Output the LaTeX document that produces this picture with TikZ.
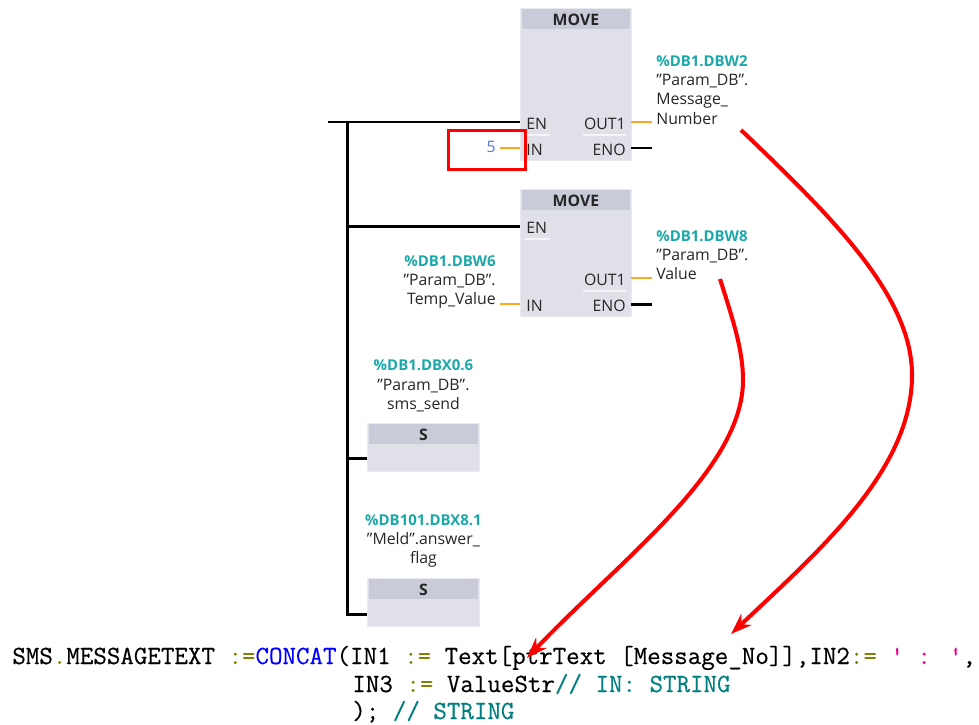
\documentclass[tikz,border=0pt]{standalone}
\usepackage{fontspec}
\setmainfont{Open Sans}
\newfontfamily\codefont[FakeBold=0.35]{Latin Modern Mono}
\usepackage{xcolor}
\usetikzlibrary{arrows.meta,positioning,calc}
\definecolor{blockgray}{HTML}{DFE0E8}
\definecolor{headgray}{HTML}{C9CBD9}
\definecolor{addrteal}{HTML}{1BA8A8}
\definecolor{wireorange}{HTML}{FFA81E}
\definecolor{valblue}{HTML}{5577DD}
\definecolor{codeolive}{HTML}{808000}
\definecolor{codeteal}{HTML}{008080}
\newcommand{\addr}[1]{\textcolor{addrteal}{\fontsize{8.5}{10.9}\selectfont\bfseries #1}}
\newcommand{\kw}[1]{\textcolor{codeolive}{#1}}
\newcommand{\qt}{\symbol{34}}
\begin{document}
\begin{tikzpicture}[x=0.02cm,y=-0.02cm,>=Stealth,
  blockbody/.style={draw=blockgray!70!white,fill=blockgray,anchor=north west,inner sep=0pt,minimum width=2.22cm,line width=0.5pt},
  blockhead/.style={fill=headgray,anchor=north,inner sep=0pt,minimum width=2.16cm,minimum height=0.40cm,font=\fontsize{9}{10}\selectfont\bfseries,text=black!85},
  pin/.style={anchor=west,inner xsep=0.12cm,inner ysep=0pt,text height=8.8pt,text depth=0pt,font=\fontsize{9}{10}\selectfont,text=black!85},
  pinr/.style={anchor=east,inner xsep=0.10cm,inner ysep=0pt,text height=8.8pt,text depth=0pt,font=\fontsize{9}{10}\selectfont,text=black!85},
  operand/.style={inner sep=0.08cm,font=\fontsize{9}{10.9}\selectfont,text=black!85},
  blackwire/.style={draw=black,line width=1.7pt},
  datawire/.style={draw=wireorange,line width=1.4pt},
  sepline/.style={draw=white,draw opacity=0.7,line width=0.6pt},
  redarrow/.style={draw=red,line width=2.3pt,-{Stealth[length=0.42cm,width=0.30cm]}},
  codeline/.style={anchor=base west,inner sep=0pt,font=\fontsize{14.93}{16}\selectfont\codefont}]
  \useasboundingbox (0,0) rectangle (979,724);
  % first move box
  \node[blockbody,minimum height=3.04cm] (move1) at (520,8) {};
  \node[blockhead] (head1) at ([yshift=-0.02cm]move1.north) {MOVE};
  \node[pin] (en1) at (520,122) {EN};
  \node[pin] (in1) at (520,148) {IN};
  \node[pinr] (out1) at (631,122) {OUT1};
  \node[pinr] (eno1) at (631,148) {ENO};
  \draw[sepline] (525,135) -- (550,135);
  \draw[sepline] (583,135) -- (626,135);
  % second move box
  \node[blockbody,minimum height=2.54cm] (move2) at (520,189) {};
  \node[blockhead] (head2) at ([yshift=-0.02cm]move2.north) {MOVE};
  \node[pin] (en2) at (520,226) {EN};
  \node[pin] (in2) at (520,304) {IN};
  \node[pinr] (out2) at (631,278) {OUT1};
  \node[pinr] (eno2) at (631,304) {ENO};
  \draw[sepline] (525,239) -- (550,239);
  \draw[sepline] (583,291) -- (626,291);
  % set coils
  \node[blockbody,minimum width=2.24cm,minimum height=0.96cm] (coil1) at (367,423) {};
  \node[blockhead,minimum width=2.18cm] (shead1) at ([yshift=-0.02cm]coil1.north) {S};
  \node[blockbody,minimum width=2.24cm,minimum height=0.96cm] (coil2) at (367,578) {};
  \node[blockhead,minimum width=2.18cm] (shead2) at ([yshift=-0.02cm]coil2.north) {S};
  % operands
  \node[operand,anchor=west,align=left] (msgno) at (652,90) {\addr{\%DB1.DBW2}\\\qt Param\_DB\qt.\\Message\_\\Number};
  \node[operand,anchor=west,align=left] (valout) at (652,255) {\addr{\%DB1.DBW8}\\\qt Param\_DB\qt.\\Value};
  \node[operand,anchor=east,align=right] (tempval) at (500,282) {\addr{\%DB1.DBW6}\\\qt Param\_DB\qt.\\Temp\_Value};
  \node[operand,anchor=east,text=valblue] (val5) at (500,147) {5};
  \node[operand,align=center,above=0.14cm of coil1] (smssend) {\addr{\%DB1.DBX0.6}\\\qt Param\_DB\qt.\\sms\_send};
  \node[operand,align=center,above=0.12cm of coil2] (ansflag) {\addr{\%DB101.DBX8.1}\\\qt Meld\qt.answer\_\\flag};
  % wires
  \coordinate (railtop) at (328,122);
  \coordinate (railjoin) at (347,122);
  \coordinate (railrung) at (347,226);
  \coordinate (railcoil) at (347,458);
  \coordinate (railend) at (347,614);
  \coordinate (enoend1) at (652,148);
  \coordinate (enoend2) at (652,304);
  \draw[blackwire] (railtop) -- (en1.west);
  \draw[blackwire] (railjoin) -- (railend) -- (railend -| coil2.west);
  \draw[blackwire] (railrung) -- (en2.west);
  \draw[blackwire] (railcoil) -- (railcoil -| coil1.west);
  \draw[blackwire] (eno1.east) -- (enoend1);
  \draw[blackwire] (eno2.east) -- (enoend2);
  \draw[datawire] (out1.east) -- (out1.east -| msgno.west);
  \draw[datawire] (out2.east) -- (out2.east -| valout.west);
  \draw[datawire] (val5.east |- in1.west) -- (in1.west);
  \draw[datawire] (tempval.east |- in2.west) -- (in2.west);
  % red frame
  \node[draw=red,line width=2pt,outer sep=0pt,anchor=north west,inner sep=0pt,minimum width=1.54cm,minimum height=0.78cm] (frame5) at (448.5,130.5) {};
  % st code
  \node[codeline] (code1) at (12,664) {SMS\kw{.}MESSAGETEXT \kw{:=}\textcolor{blue}{CONCAT}(IN1 \kw{:=} Text[ptrText [Message\_No]],IN2\kw{:=} \textcolor{magenta}{' : '},};
  \node[codeline] (code2) at (352,692) {IN3 \kw{:=} ValueStr\textcolor{codeteal}{// IN: STRING}};
  \node[codeline] (code3) at (352,719) {); \textcolor{codeteal}{// STRING}};
  % arrows
  \coordinate (numstart) at (741,130);
  \coordinate (numbend) at (912,375);
  \coordinate (numend) at (731,634);
  \coordinate (valstart) at (720,279);
  \coordinate (valbend) at (743,380);
  \coordinate (valend) at (527,658);
  \draw[redarrow] (numstart) .. controls (830,215) and (912,295) .. (numbend) .. controls (912,470) and (820,550) .. (numend);
  \draw[redarrow] (valstart) .. controls (733,320) and (743,350) .. (valbend) .. controls (743,470) and (620,560) .. (valend);
\end{tikzpicture}
\end{document}
